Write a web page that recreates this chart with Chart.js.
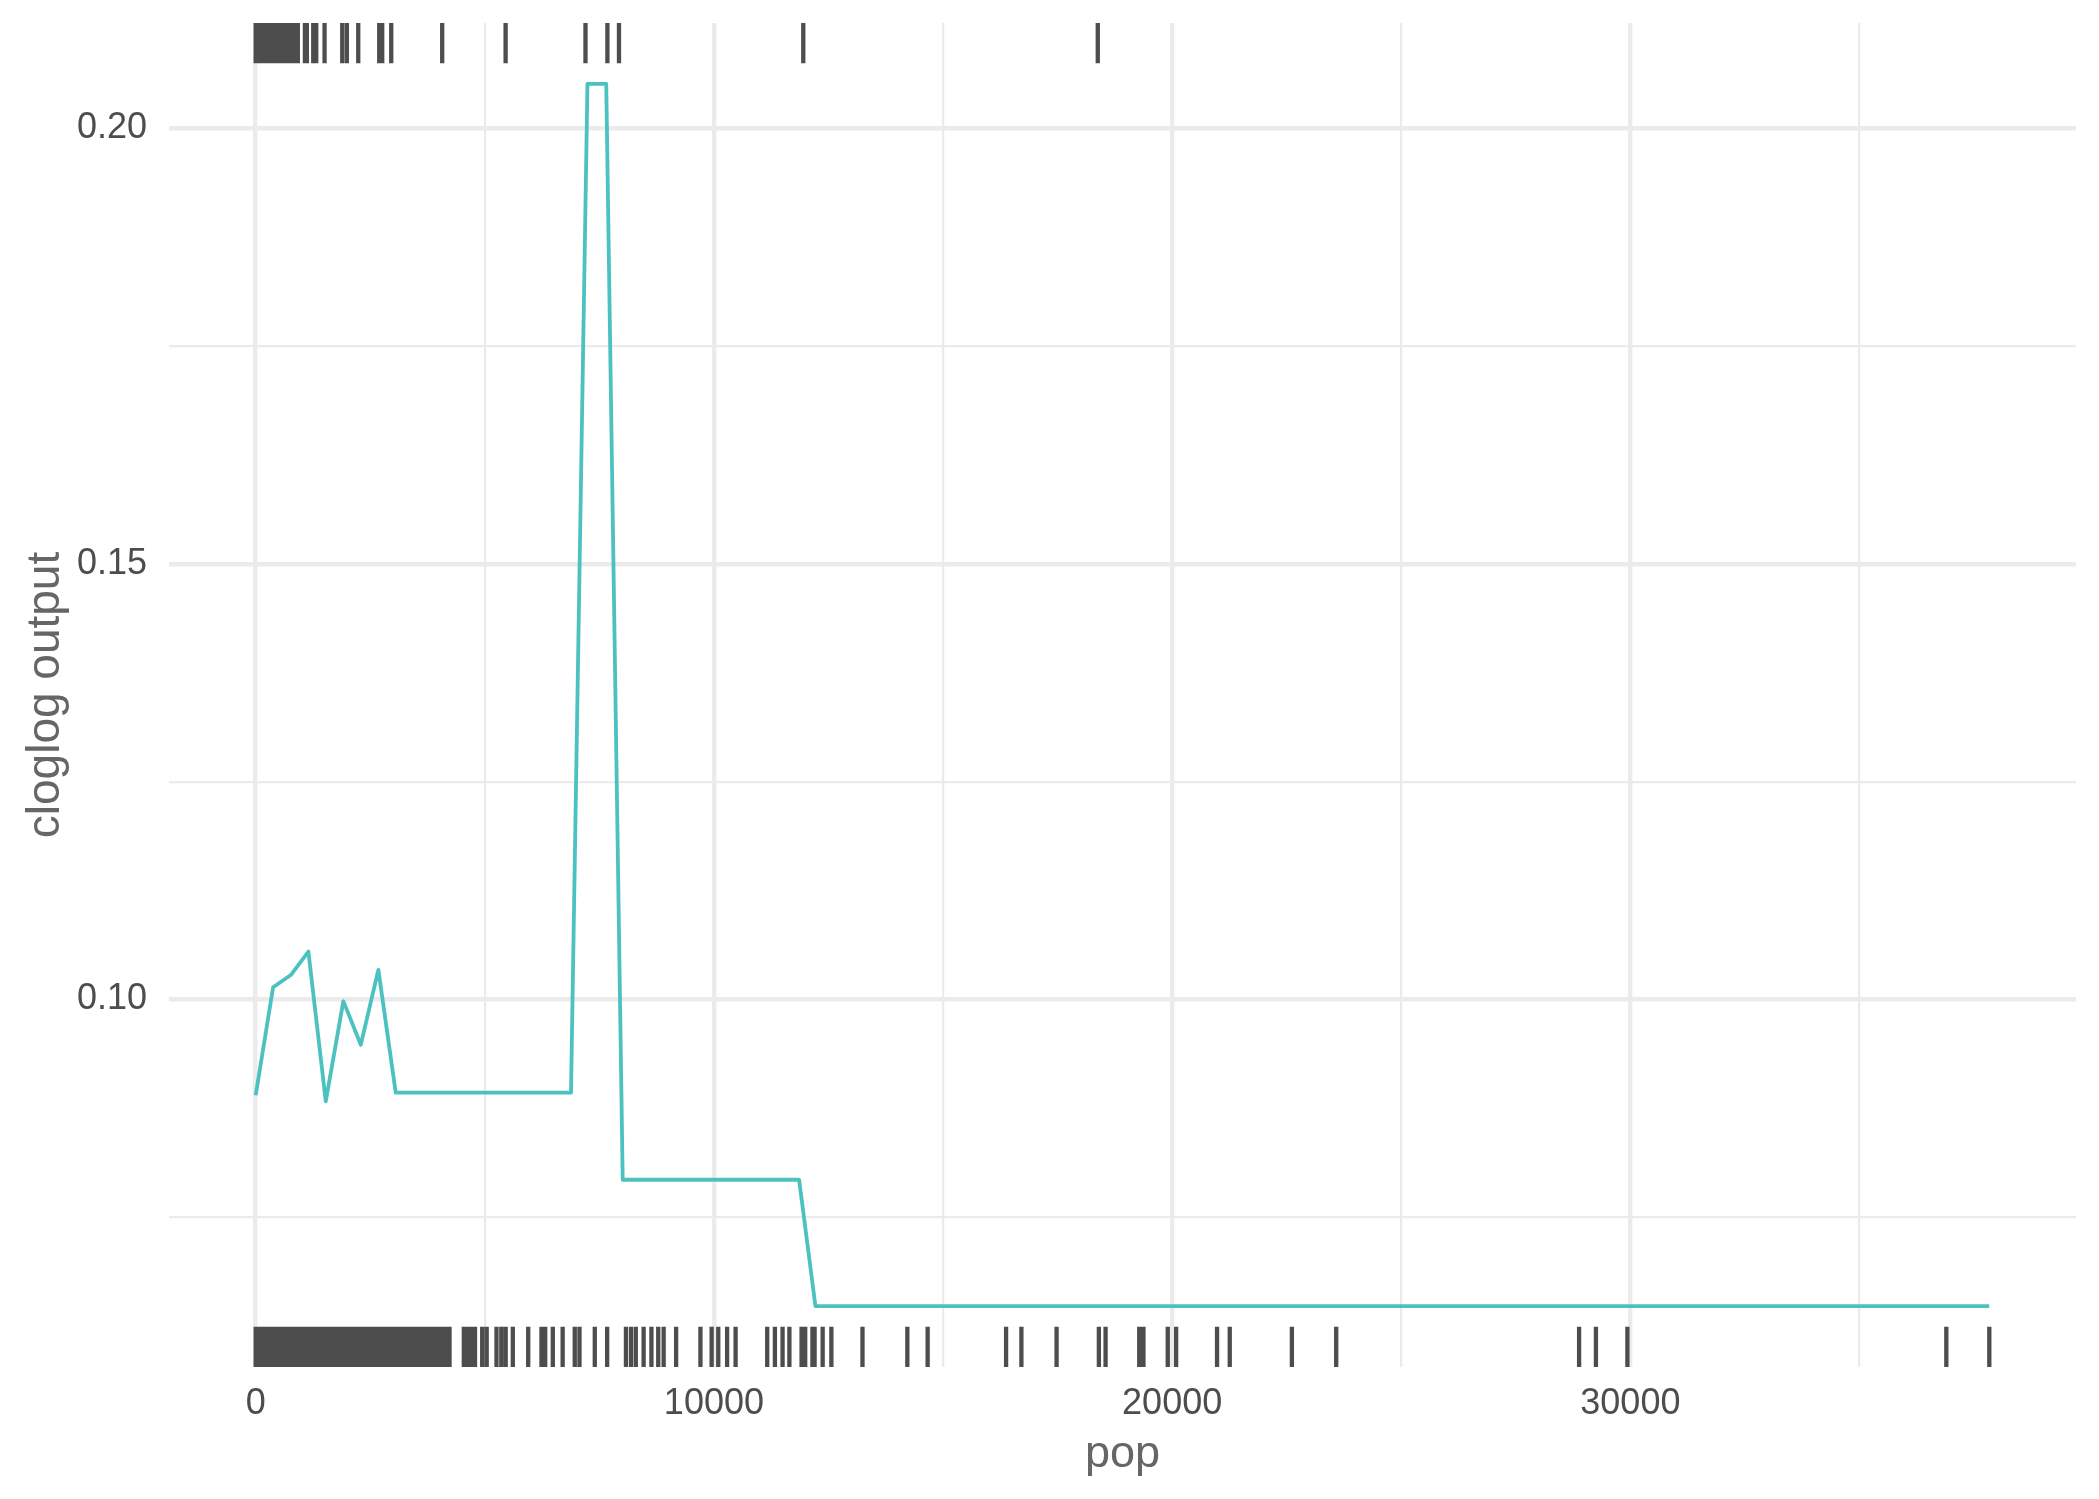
<!DOCTYPE html>
<html>
<head>
<meta charset="utf-8">
<script src="https://cdn.jsdelivr.net/npm/chart.js@4.4.1/dist/chart.umd.min.js"></script>
<style>
  body { margin: 0; background: #ffffff; }
</style>
</head>
<body>
<canvas id="myChart" width="2099" height="1499"></canvas>
<script>
// response curve (pop -> cloglog output)
const popValues = [0, 380, 766, 1150, 1529, 1913, 2293, 2677, 3056, 6881, 7240, 7650, 8010, 11859, 12215, 37830];
const clogValues = [0.0890, 0.1014, 0.1028, 0.1055, 0.0883, 0.0998, 0.0948, 0.1034, 0.0893, 0.0893, 0.2051, 0.2051, 0.0793, 0.0793, 0.0648, 0.0648];

// rug marks (top = presence, bottom = background)
const topRug = [0, 40, 90, 140, 190, 240, 290, 340, 390, 440, 490, 540, 590, 640, 690, 740, 790, 840, 890, 920,
  1074, 1117, 1256, 1321, 1503, 1889, 1990, 2238, 2696, 2761, 2958, 4070, 5454, 7197, 7675, 7928, 11950, 18377];
const bottomRug = [0, 60, 130, 190, 260, 330, 400, 460, 530, 600, 670, 740, 800, 870, 940, 1010, 1080, 1150,
  1220, 1290, 1360, 1430, 1500, 1570, 1640, 1710, 1780, 1850, 1920, 1990, 2060, 2130, 2200, 2270, 2340, 2410,
  2480, 2550, 2620, 2690, 2760, 2830, 2900, 2970, 3040, 3110, 3180, 3250, 3320, 3390, 3460, 3530, 3600, 3670,
  3740, 3810, 3880, 3950, 4020, 4090, 4160, 4230,
  4542, 4618, 4705, 4786, 4943, 5041, 5255, 5360, 5456, 5611, 5947, 6237, 6318, 6484, 6699, 6963, 7066, 7400,
  7670, 8080, 8190, 8295, 8466, 8636, 8785, 8903, 9175, 9706, 9950, 10095, 10288, 10473, 11163, 11331, 11498,
  11647, 11913, 11992, 12150, 12197, 12373, 12563, 13242, 14221, 14664, 16376, 16710, 17478, 18401, 18547,
  19282, 19374, 19904, 20087, 20980, 21257, 22613, 23580, 28881, 29248, 29935, 36895, 37833];

// axis ticks
const xMajor = [0, 10000, 20000, 30000];
const xMinor = [5000, 15000, 25000, 35000];
const yMajor = [0.10, 0.15, 0.20];
const yMinor = [0.075, 0.125, 0.175];

const FONT = "'Liberation Sans', Arial, Helvetica, sans-serif";
const gridColor = '#EBEBEB';
const lineColor = '#4BC2C0';
const rugColor = '#4D4D4D';

const rugPlugin = {
  id: 'rug',
  afterDatasetsDraw(chart) {
    const { ctx, chartArea } = chart;
    const xScale = chart.scales.x;
    const len = chartArea.height * 0.03;
    ctx.save();
    ctx.strokeStyle = rugColor;
    ctx.lineWidth = 4.3;
    ctx.lineCap = 'butt';
    ctx.beginPath();
    topRug.forEach(v => {
      const px = xScale.getPixelForValue(v);
      ctx.moveTo(px, chartArea.top);
      ctx.lineTo(px, chartArea.top + len);
    });
    bottomRug.forEach(v => {
      const px = xScale.getPixelForValue(v);
      ctx.moveTo(px, chartArea.bottom);
      ctx.lineTo(px, chartArea.bottom - len);
    });
    ctx.stroke();
    ctx.restore();
  }
};

function setTicks(list) {
  return scale => {
    scale.ticks = list.slice().sort((a, b) => a - b).map(v => ({ value: v }));
  };
}

const data = {
  datasets: [{
    data: popValues.map((p, i) => ({ x: p, y: clogValues[i] })),
    borderColor: lineColor,
    borderWidth: 3.8,
    pointRadius: 0,
    tension: 0,
    borderJoinStyle: 'round',
    fill: false
  }]
};

const config = {
  type: 'line',
  data,
  options: {
    responsive: false,
    devicePixelRatio: 1,
    animation: false,
    layout: { padding: { top: 23, right: 23, left: 0, bottom: 0 } },
    plugins: {
      legend: { display: false },
      tooltip: { enabled: false }
    },
    scales: {
      x: {
        type: 'linear',
        min: -1892,
        max: 39725,
        afterBuildTicks: setTicks(xMajor.concat(xMinor)),
        afterFit: scale => {
          scale.height = 132;
          scale.paddingLeft = 0;
          scale.paddingRight = 0;
        },
        border: { display: false },
        grid: {
          color: gridColor,
          drawTicks: false,
          lineWidth: ctx => xMajor.includes(ctx.tick.value) ? 4.4 : 2.2
        },
        ticks: {
          autoSkip: false,
          maxRotation: 0,
          padding: 15,
          color: '#4D4D4D',
          font: { family: FONT, size: 36 },
          callback: v => xMajor.includes(v) ? String(v) : ''
        },
        title: {
          display: true,
          text: 'pop',
          color: '#666666',
          font: { family: FONT, size: 45 },
          padding: { top: 0, bottom: 17 }
        }
      },
      y: {
        type: 'linear',
        min: 0.0578,
        max: 0.2121,
        afterBuildTicks: setTicks(yMajor.concat(yMinor)),
        afterFit: scale => {
          scale.width = 169;
          scale.paddingTop = 0;
          scale.paddingBottom = 0;
        },
        border: { display: false },
        grid: {
          color: gridColor,
          drawTicks: false,
          lineWidth: ctx => yMajor.includes(ctx.tick.value) ? 4.4 : 2.2
        },
        ticks: {
          autoSkip: false,
          padding: 22,
          color: '#4D4D4D',
          font: { family: FONT, size: 36 },
          callback: v => yMajor.includes(v) ? v.toFixed(2) : ''
        },
        title: {
          display: true,
          text: 'cloglog output',
          color: '#666666',
          font: { family: FONT, size: 46 },
          padding: { top: 19, bottom: 0 }
        }
      }
    }
  },
  plugins: [rugPlugin]
};

new Chart(document.getElementById('myChart'), config);
</script>
</body>
</html>
